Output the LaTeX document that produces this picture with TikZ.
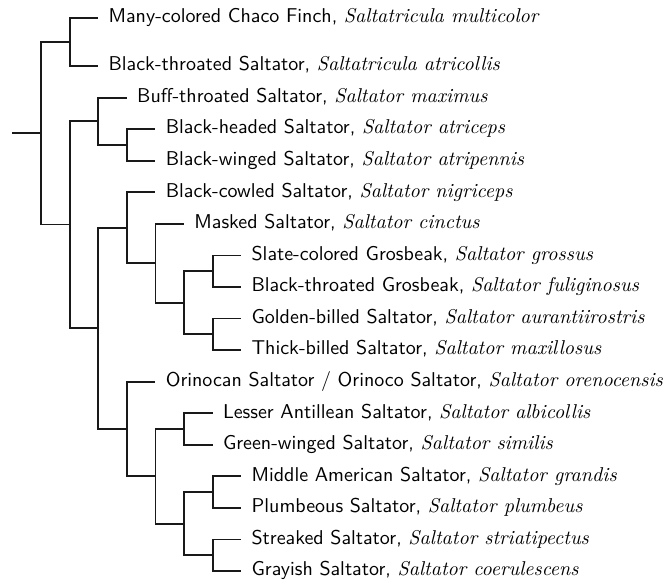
\documentclass[tikz,border=0pt]{standalone}
\newcommand{\sci}[1]{{\rmfamily\itshape #1}}
\begin{document}
\begin{tikzpicture}[x=0.5pt,y=-0.5pt,
  edge/.style={draw=black!90,line width=0.9pt},
  leaf/.style={anchor=west,inner xsep=5pt,inner ysep=0pt,text height=6.8pt,text depth=2pt,font=\sffamily}]
\useasboundingbox (0,0) rectangle (669,586);
% internal nodes
\coordinate (r0) at (12.4,133);
\coordinate (r)  at (41,133);
\coordinate (A)  at (69.6,42);
\coordinate (B)  at (69.6,224.5);
\coordinate (C)  at (98.2,121.2);
\coordinate (E)  at (126.8,144.9);
\coordinate (D)  at (98.2,328.3);
\coordinate (F)  at (126.8,227.7);
\coordinate (H)  at (155.4,263.2);
\coordinate (I)  at (184,302.7);
\coordinate (J)  at (212.6,271.1);
\coordinate (K)  at (212.6,334.3);
\coordinate (G)  at (126.8,428.9);
\coordinate (M)  at (155.4,476.3);
\coordinate (N)  at (184,428.9);
\coordinate (O)  at (184,523.6);
\coordinate (P)  at (212.6,492.1);
\coordinate (Q)  at (212.6,555.2);
% leaves
\node[leaf] (l1)  at (98.2,18)    {Many-colored Chaco Finch, \sci{Saltatricula multicolor}};
\node[leaf] (l2)  at (98.2,66)    {Black-throated Saltator, \sci{Saltatricula atricollis}};
\node[leaf] (l3)  at (126.8,97.6) {Buff-throated Saltator, \sci{Saltator maximus}};
\node[leaf] (l4)  at (155.4,129.1){Black-headed Saltator, \sci{Saltator atriceps}};
\node[leaf] (l5)  at (155.4,160.7){Black-winged Saltator, \sci{Saltator atripennis}};
\node[leaf] (l6)  at (155.4,192.2){Black-cowled Saltator, \sci{Saltator nigriceps}};
\node[leaf] (l7)  at (184,223.8)  {Masked Saltator, \sci{Saltator cinctus}};
\node[leaf] (l8)  at (241.2,255.4){Slate-colored Grosbeak, \sci{Saltator grossus}};
\node[leaf] (l9)  at (241.2,286.9){Black-throated Grosbeak, \sci{Saltator fuliginosus}};
\node[leaf] (l10) at (241.2,318.5){Golden-billed Saltator, \sci{Saltator aurantiirostris}};
\node[leaf] (l11) at (241.2,350)  {Thick-billed Saltator, \sci{Saltator maxillosus}};
\node[leaf] (l12) at (155.4,381.6){Orinocan Saltator / Orinoco Saltator, \sci{Saltator orenocensis}};
\node[leaf] (l13) at (212.6,413.2){Lesser Antillean Saltator, \sci{Saltator albicollis}};
\node[leaf] (l14) at (212.6,444.7){Green-winged Saltator, \sci{Saltator similis}};
\node[leaf] (l15) at (241.2,476.3){Middle American Saltator, \sci{Saltator grandis}};
\node[leaf] (l16) at (241.2,507.8){Plumbeous Saltator, \sci{Saltator plumbeus}};
\node[leaf] (l17) at (241.2,539.4){Streaked Saltator, \sci{Saltator striatipectus}};
\node[leaf] (l18) at (241.2,571)  {Grayish Saltator, \sci{Saltator coerulescens}};
% edges
\draw[edge] (r0) -- (r);
\draw[edge] (r) |- (A);
\draw[edge] (r) |- (B);
\draw[edge] (A) |- (l1.west);
\draw[edge] (A) |- (l2.west);
\draw[edge] (B) |- (C);
\draw[edge] (B) |- (D);
\draw[edge] (C) |- (l3.west);
\draw[edge] (C) |- (E);
\draw[edge] (E) |- (l4.west);
\draw[edge] (E) |- (l5.west);
\draw[edge] (D) |- (F);
\draw[edge] (D) |- (G);
\draw[edge] (F) |- (l6.west);
\draw[edge] (F) |- (H);
\draw[edge] (H) |- (l7.west);
\draw[edge] (H) |- (I);
\draw[edge] (I) |- (J);
\draw[edge] (I) |- (K);
\draw[edge] (J) |- (l8.west);
\draw[edge] (J) |- (l9.west);
\draw[edge] (K) |- (l10.west);
\draw[edge] (K) |- (l11.west);
\draw[edge] (G) |- (l12.west);
\draw[edge] (G) |- (M);
\draw[edge] (M) |- (N);
\draw[edge] (M) |- (O);
\draw[edge] (N) |- (l13.west);
\draw[edge] (N) |- (l14.west);
\draw[edge] (O) |- (P);
\draw[edge] (O) |- (Q);
\draw[edge] (P) |- (l15.west);
\draw[edge] (P) |- (l16.west);
\draw[edge] (Q) |- (l17.west);
\draw[edge] (Q) |- (l18.west);
\end{tikzpicture}
\end{document}
